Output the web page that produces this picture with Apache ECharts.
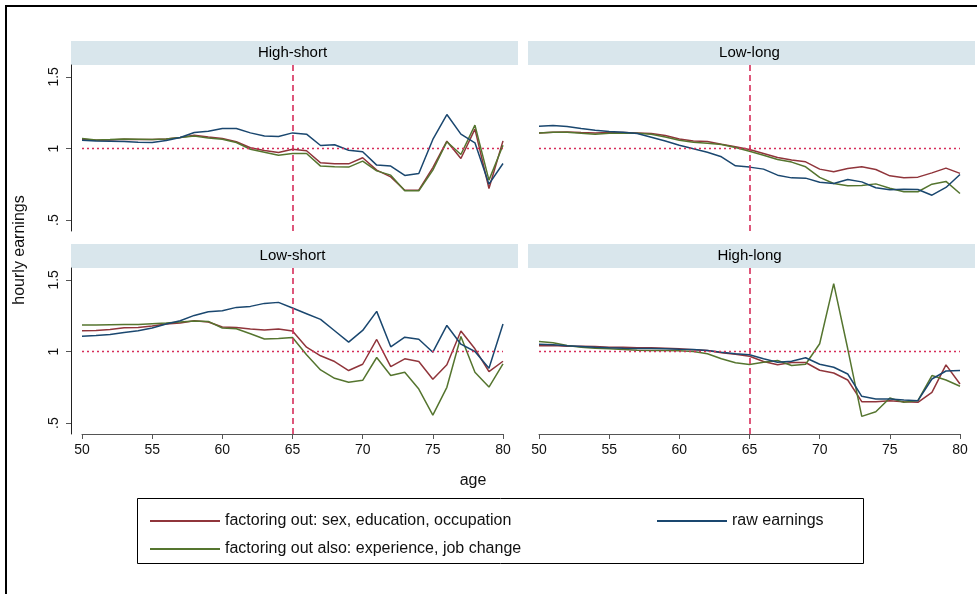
<!DOCTYPE html>
<html>
<head>
<meta charset="utf-8">
<title>hourly earnings by age</title>
<script src="https://cdn.jsdelivr.net/npm/echarts@6/dist/echarts.min.js"></script>
<style>
  html, body { margin: 0; padding: 0; background: #fff; }
  #main { width: 977px; height: 594px; }
</style>
</head>
<body>
<div id="main"></div>
<script>
var ages = [50,51,52,53,54,55,56,57,58,59,60,61,62,63,64,65,66,67,68,69,70,71,72,73,74,75,76,77,78,79,80];
var xTicks = [50,55,60,65,70,75,80];
var yTicks = [0.5,1,1.5];
var panelNames = ['High-short','Low-long','Low-short','High-long'];
var seriesNames = ['factoring out: sex, education, occupation','raw earnings','factoring out also: experience, job change'];

// High-short
var hsRaw = [1.058,1.053,1.051,1.049,1.044,1.042,1.056,1.077,1.112,1.121,1.14,1.14,1.109,1.088,1.084,1.109,1.1,1.021,1.026,0.988,0.977,0.884,0.877,0.812,0.826,1.063,1.237,1.1,1.04,0.751,0.895];
var hsSex = [1.065,1.058,1.06,1.065,1.063,1.063,1.067,1.077,1.093,1.081,1.07,1.047,1.005,0.986,0.972,0.995,0.984,0.9,0.893,0.893,0.935,0.849,0.802,0.709,0.709,0.867,1.051,0.93,1.135,0.721,1.053];
var hsExp = [1.07,1.06,1.063,1.067,1.065,1.063,1.067,1.077,1.088,1.074,1.065,1.042,0.995,0.974,0.953,0.965,0.965,0.877,0.872,0.87,0.912,0.844,0.814,0.705,0.705,0.849,1.047,0.958,1.163,0.779,1.023];
// Low-long
var llRaw = [1.156,1.16,1.153,1.14,1.128,1.119,1.114,1.105,1.079,1.053,1.023,0.998,0.974,0.942,0.879,0.87,0.856,0.814,0.795,0.793,0.765,0.756,0.784,0.767,0.726,0.712,0.716,0.714,0.674,0.728,0.819];
var llSex = [1.109,1.114,1.116,1.112,1.109,1.112,1.112,1.109,1.105,1.091,1.067,1.053,1.049,1.03,1.012,0.993,0.965,0.937,0.919,0.907,0.856,0.837,0.86,0.872,0.853,0.809,0.795,0.8,0.83,0.863,0.826];
var llExp = [1.109,1.114,1.114,1.107,1.1,1.107,1.107,1.107,1.1,1.081,1.058,1.044,1.037,1.028,1.007,0.981,0.953,0.923,0.905,0.872,0.798,0.756,0.74,0.742,0.753,0.723,0.698,0.698,0.751,0.77,0.686];
// Low-short
var lsRaw = [1.107,1.112,1.119,1.133,1.145,1.164,1.192,1.215,1.252,1.278,1.285,1.308,1.315,1.336,1.343,1.304,1.264,1.224,1.145,1.065,1.147,1.28,1.033,1.1,1.086,0.995,1.182,1.051,1.0,0.883,1.192];
var lsSex = [1.145,1.147,1.154,1.166,1.168,1.178,1.192,1.199,1.215,1.206,1.171,1.168,1.157,1.15,1.157,1.143,1.03,0.97,0.93,0.867,0.911,1.084,0.895,0.949,0.93,0.806,0.907,1.143,1.019,0.86,0.932];
var lsExp = [1.185,1.185,1.187,1.189,1.189,1.194,1.199,1.206,1.213,1.21,1.164,1.159,1.124,1.087,1.091,1.098,0.977,0.871,0.813,0.785,0.799,0.958,0.832,0.855,0.738,0.556,0.75,1.105,0.855,0.752,0.913];
// High-long
var hlRaw = [1.051,1.047,1.04,1.035,1.03,1.026,1.023,1.021,1.021,1.019,1.016,1.014,1.007,0.995,0.984,0.977,0.949,0.925,0.932,0.956,0.911,0.89,0.843,0.687,0.668,0.668,0.661,0.657,0.808,0.864,0.867];
var hlSex = [1.04,1.042,1.037,1.037,1.035,1.03,1.03,1.026,1.026,1.023,1.019,1.012,1.007,0.991,0.981,0.967,0.93,0.907,0.923,0.923,0.869,0.85,0.801,0.65,0.65,0.657,0.65,0.645,0.715,0.907,0.773];
var hlExp = [1.07,1.061,1.042,1.03,1.023,1.019,1.014,1.009,1.007,1.007,1.005,1.0,0.984,0.949,0.921,0.909,0.925,0.937,0.902,0.911,1.054,1.474,1.019,0.547,0.579,0.675,0.645,0.657,0.832,0.801,0.757];

var panelData = [[hsSex,hsRaw,hsExp],[llSex,llRaw,llExp],[lsSex,lsRaw,lsExp],[hlSex,hlRaw,hlExp]];
var colors = ['#90353b','#1a476f','#55752f'];
var refColor = '#d62d5a';
var FONT = 'Liberation Sans, Arial, sans-serif';

// plot area of each panel (data range 50..80)
var boxes = [[82,65],[539,65],[82,268],[539,268]];
var plotW = 421, plotH = 166;

function pairs(arr) {
  var out = [];
  for (var i = 0; i < ages.length; i++) out.push([ages[i], arr[i]]);
  return out;
}

var grids = [], xAxes = [], yAxes = [], series = [], graphics = [];
for (var p = 0; p < 4; p++) {
  var b = boxes[p];
  grids.push({left: b[0], top: b[1], width: plotW, height: plotH});
  var bottom = p >= 2, leftCol = (p % 2 === 0);
  xAxes.push({
    type: 'value', gridIndex: p, min: 50, max: 80,
    show: bottom,
    axisLine: {show: bottom, lineStyle: {color: '#555'}},
    axisTick: {show: bottom, length: 5, customValues: xTicks, lineStyle: {color: '#555'}},
    axisLabel: {show: bottom, customValues: xTicks, color: '#111', fontFamily: FONT, fontSize: 14, margin: 9},
    splitLine: {show: false}
  });
  yAxes.push({
    type: 'value', gridIndex: p, min: 0.424, max: 1.583, offset: 11,
    show: leftCol,
    axisLine: {show: leftCol, lineStyle: {color: '#222'}},
    axisTick: {show: leftCol, length: 5, customValues: yTicks, lineStyle: {color: '#555'}},
    axisLabel: {show: leftCol, customValues: yTicks, rotate: 90, color: '#111', fontFamily: FONT, fontSize: 14, margin: 10,
      formatter: function (v) { return v === 0.5 ? '.5' : String(v); }},
    splitLine: {show: false}
  });
  for (var s = 0; s < 3; s++) {
    var ser = {
      name: seriesNames[s], type: 'line', xAxisIndex: p, yAxisIndex: p,
      data: pairs(panelData[p][s]), symbol: 'none', z: s === 1 ? 4 : 3,
      lineStyle: {color: colors[s], width: 1.5}, itemStyle: {color: colors[s]},
      animation: false
    };
    if (s === 0) {
      ser.markLine = {
        silent: true, symbol: 'none', label: {show: false}, animation: false,
        lineStyle: {color: refColor},
        data: [
          {xAxis: 65, lineStyle: {color: refColor, type: [6, 4], width: 1.6}},
          {yAxis: 1, lineStyle: {color: refColor, type: [2, 3], width: 1.3}}
        ]
      };
    }
    series.push(ser);
  }
  // header strip
  graphics.push({type: 'rect', shape: {x: b[0] - 11, y: b[1] - 24, width: 447, height: 24},
    style: {fill: '#d9e6ec'}, z: -1});
  graphics.push({type: 'text', x: b[0] + plotW / 2, y: b[1] - 12,
    style: {text: panelNames[p], fill: '#000', font: '15px ' + FONT, align: 'center', verticalAlign: 'middle'}});
}

graphics.push({type: 'rect', shape: {x: 6, y: 6, width: 1000, height: 1000},
  style: {fill: 'none', stroke: '#000', lineWidth: 2}, z: -2});
graphics.push({type: 'text', x: 20, y: 250, rotation: Math.PI / 2,
  style: {text: 'hourly earnings', fill: '#111', font: '16px ' + FONT, align: 'center', verticalAlign: 'middle'}});
graphics.push({type: 'text', x: 473, y: 481,
  style: {text: 'age', fill: '#111', font: '16px ' + FONT, align: 'center', verticalAlign: 'middle'}});
graphics.push({type: 'rect', shape: {x: 137.5, y: 498.5, width: 726, height: 65},
  style: {fill: 'none', stroke: '#000', lineWidth: 1}});

var legendCommon = {
  orient: 'horizontal', itemWidth: 70, itemHeight: 2, icon: 'rect', itemGap: 10,
  textStyle: {color: '#111', fontFamily: FONT, fontSize: 16}, selectedMode: false
};

var chart = echarts.init(document.getElementById('main'));
chart.setOption({
  backgroundColor: '#fff',
  animation: false,
  grid: grids,
  xAxis: xAxes,
  yAxis: yAxes,
  series: series,
  legend: [
    Object.assign({}, legendCommon, {data: [seriesNames[0]], left: 145, top: 508}),
    Object.assign({}, legendCommon, {data: [seriesNames[1]], left: 652, top: 508}),
    Object.assign({}, legendCommon, {data: [seriesNames[2]], left: 145, top: 536})
  ],
  graphic: graphics
});
</script>
</body>
</html>
